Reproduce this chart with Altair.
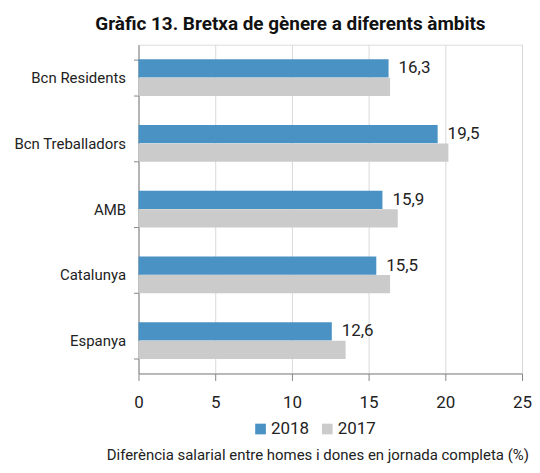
import altair as alt
import pandas as pd

categories = ["Bcn Residents", "Bcn Treballadors", "AMB", "Catalunya", "Espanya"]
years = ["2018", "2017"]
values_2018 = [16.3, 19.5, 15.9, 15.5, 12.6]
values_2017 = [16.4, 20.2, 16.9, 16.4, 13.5]
labels_2018 = ["16,3", "19,5", "15,9", "15,5", "12,6"]

rows = []
for c, v18, v17, lab in zip(categories, values_2018, values_2017, labels_2018):
    rows.append({"cat": c, "year": "2018", "value": v18, "label": lab})
    rows.append({"cat": c, "year": "2017", "value": v17, "label": lab})
df = pd.DataFrame(rows)

FONT = "Roboto, Liberation Sans, sans-serif"

y_enc = alt.Y(
    "cat:N",
    sort=categories,
    scale=alt.Scale(paddingInner=0.44, paddingOuter=0.22),
    axis=alt.Axis(
        title=None,
        tickBand="extent",
        tickSize=5,
        tickColor="#868686",
        domainColor="#868686",
        labelFont=FONT,
        labelFontSize=15,
        labelColor="#222222",
        labelPadding=8,
        grid=False,
    ),
)
yoff = alt.YOffset("year:N", sort=years, scale=alt.Scale(domain=years))

x_enc = alt.X(
    "value:Q",
    scale=alt.Scale(domain=[0, 25], nice=False),
    axis=alt.Axis(
        values=[0, 5, 10, 15, 20, 25],
        title="Diferència salarial entre homes i dones en jornada completa (%)",
        titleFont=FONT,
        titleFontSize=15,
        titleFontWeight="normal",
        titleColor="#222222",
        titleX=179.5,
        titleY=81,
        titleAlign="center",
        titleBaseline="middle",
        labelFont=FONT,
        labelFontSize=17,
        labelColor="#222222",
        labelBaseline="middle",
        labelPadding=22,
        labelFlush=False,
        tickSize=7,
        tickColor="#868686",
        domainColor="#868686",
        gridColor="#D9D9D9",
        grid=True,
    ),
)

bars = alt.Chart(df).mark_bar(size=18.3).encode(
    x=x_enc,
    y=y_enc,
    yOffset=yoff,
    color=alt.Color(
        "year:N",
        sort=years,
        scale=alt.Scale(domain=years, range=["#4A91C4", "#CBCBCB"]),
        legend=alt.Legend(
            title=None,
            orient="none",
            direction="horizontal",
            legendX=114,
            legendY=377,
            padding=0,
            symbolType="square",
            symbolSize=115,
            symbolStrokeWidth=0,
            labelFont=FONT,
            labelFontSize=17,
            labelColor="#222222",
            labelOffset=2,
            columnPadding=9,
        ),
    ),
)

texts = alt.Chart(df).transform_filter(alt.datum.year == "2018").mark_text(
    align="left", baseline="middle", dx=10, font=FONT, fontSize=17, color="#222222"
).encode(
    x=alt.X("value:Q"),
    y=alt.Y("cat:N", sort=categories),
    yOffset=yoff,
    text="label:N",
)

chart = (
    alt.layer(bars, texts)
    .properties(
        width=385,
        height=330,
        autosize=alt.AutoSizeParams(type="none"),
        padding={"left": 131, "top": 36, "right": 10, "bottom": 90},
        title=alt.TitleParams(
            "Gràfic 13. Bretxa de gènere a diferents àmbits",
            font=FONT,
            fontSize=19,
            fontWeight="bold",
            color="#111111",
            anchor="middle",
            dx=-40,
            offset=4,
        ),
    )
    .configure_view(stroke=None)
    .configure(background="white")
)

chart.save("out.html", embed_options={"renderer": "svg", "actions": False})
